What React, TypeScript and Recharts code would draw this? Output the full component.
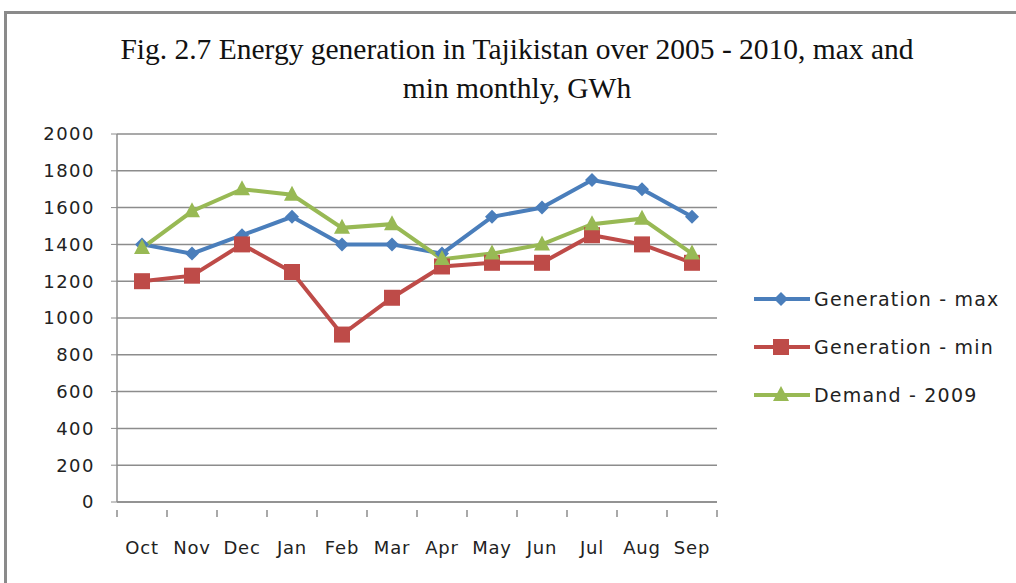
import React from "react";
import { CartesianGrid, Line, LineChart, XAxis, YAxis } from "recharts";

const months = ["Oct", "Nov", "Dec", "Jan", "Feb", "Mar", "Apr", "May", "Jun", "Jul", "Aug", "Sep"];
const genMax = [1400, 1350, 1450, 1550, 1400, 1400, 1350, 1550, 1600, 1750, 1700, 1550];
const genMin = [1200, 1230, 1400, 1250, 910, 1110, 1280, 1300, 1300, 1450, 1400, 1300];
const demand = [1380, 1580, 1700, 1670, 1490, 1510, 1320, 1350, 1400, 1510, 1540, 1350];
const yTicks = [0, 200, 400, 600, 800, 1000, 1200, 1400, 1600, 1800, 2000];

const data = months.map((m, i) => ({
  month: m,
  max: genMax[i],
  min: genMin[i],
  demand: demand[i],
}));

const BLUE = "#4a7ebb";
const RED = "#be4b48";
const GREEN = "#98b954";
const GRID = "#8c8c8c";
const SANS = "'DejaVu Sans', sans-serif";

const PLOT_W = 600;
const BAND = PLOT_W / months.length;

const Diamond = ({ cx, cy, fill }: any) =>
  cx == null ? null : (
    <path d={`M${cx},${cy - 7}L${cx + 7},${cy}L${cx},${cy + 7}L${cx - 7},${cy}Z`} fill={fill} />
  );

const Square = ({ cx, cy, fill }: any) =>
  cx == null ? null : <rect x={cx - 8} y={cy - 8} width={16} height={16} fill={fill} />;

const Triangle = ({ cx, cy, fill }: any) =>
  cx == null ? null : (
    <path d={`M${cx},${cy - 9}L${cx + 8},${cy + 6}L${cx - 8},${cy + 6}Z`} fill={fill} />
  );

// tick marks sit between categories, like in Excel
const XTick = ({ x, y, payload, index }: any) => (
  <g>
    <line x1={x - BAND / 2} x2={x - BAND / 2} y1={y} y2={y + 7} stroke={GRID} strokeWidth={1.5} />
    {index === months.length - 1 && (
      <line x1={x + BAND / 2} x2={x + BAND / 2} y1={y} y2={y + 7} stroke={GRID} strokeWidth={1.5} />
    )}
    <text
      x={x}
      y={y + 44}
      textAnchor="middle"
      fontFamily={SANS}
      fontSize={18}
      letterSpacing={0.8}
      fill="#222"
    >
      {payload.value}
    </text>
  </g>
);

const legendItems = [
  { label: "Generation - max", color: BLUE, Shape: Diamond },
  { label: "Generation - min", color: RED, Shape: Square },
  { label: "Demand - 2009", color: GREEN, Shape: Triangle },
];

const LegendBox = () => (
  <div style={{ position: "absolute", left: 752, top: 275 }}>
    {legendItems.map(({ label, color, Shape }) => (
      <div key={label} style={{ display: "flex", alignItems: "center", height: 48 }}>
        <svg width={60} height={20}>
          <line x1={2} x2={58} y1={10} y2={10} stroke={color} strokeWidth={4} />
          <Shape cx={29} cy={10} fill={color} />
        </svg>
        <span
          style={{
            fontFamily: SANS,
            fontSize: 19,
            letterSpacing: 1.2,
            color: "#222",
            marginLeft: 2,
          }}
        >
          {label}
        </span>
      </div>
    ))}
  </div>
);

export default function App() {
  return (
    <div
      style={{
        position: "absolute",
        left: 0,
        top: 0,
        width: 1016,
        height: 583,
        background: "#fff",
        overflow: "hidden",
      }}
    >
      <div
        style={{
          position: "absolute",
          left: 4,
          top: 11,
          width: 1040,
          height: 600,
          border: "3px solid #8a8a8a",
          boxSizing: "border-box",
        }}
      />
      <div
        style={{
          position: "absolute",
          left: 0,
          width: 1034,
          top: 30,
          textAlign: "center",
          fontFamily: "'Liberation Serif', serif",
          fontSize: 29.5,
          lineHeight: "39px",
          color: "#111",
        }}
      >
        Fig. 2.7 Energy generation in Tajikistan over 2005 - 2010, max and
        <br />
        min monthly, GWh
      </div>
      <LineChart
        width={1016}
        height={583}
        data={data}
        margin={{ top: 134, right: 299, bottom: 0, left: 0 }}
        style={{ position: "absolute", left: 0, top: 0 }}
      >
        <CartesianGrid vertical={false} stroke={GRID} strokeWidth={1.5} />
        <XAxis
          dataKey="month"
          tick={<XTick />}
          tickLine={false}
          axisLine={{ stroke: GRID, strokeWidth: 1.5 }}
          interval={0}
          height={81}
          padding={{ left: BAND / 2, right: BAND / 2 }}
        />
        <YAxis
          width={117}
          domain={[0, 2000]}
          ticks={yTicks}
          axisLine={{ stroke: GRID, strokeWidth: 1.5 }}
          tickLine={{ stroke: GRID }}
          tickSize={6}
          tick={{ fill: "#222", fontSize: 18, fontFamily: SANS, letterSpacing: 1.5, dx: -14 }}
        />
        <Line
          dataKey="max"
          stroke={BLUE}
          strokeWidth={4}
          dot={<Diamond fill={BLUE} />}
          isAnimationActive={false}
        />
        <Line
          dataKey="min"
          stroke={RED}
          strokeWidth={4}
          dot={<Square fill={RED} />}
          isAnimationActive={false}
        />
        <Line
          dataKey="demand"
          stroke={GREEN}
          strokeWidth={4}
          dot={<Triangle fill={GREEN} />}
          isAnimationActive={false}
        />
      </LineChart>
      <LegendBox />
    </div>
  );
}
